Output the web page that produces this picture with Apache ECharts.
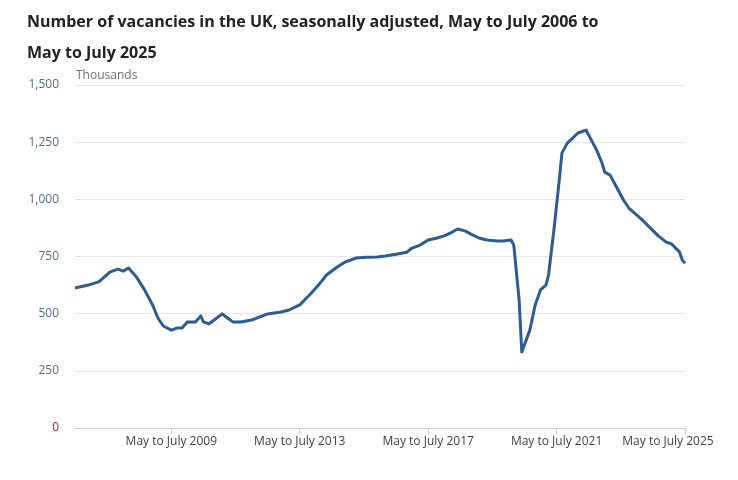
<!DOCTYPE html>
<html>
<head>
<meta charset="utf-8">
<script src="https://cdn.jsdelivr.net/npm/echarts@6/dist/echarts.min.js"></script>
<style>body{margin:0;background:#fff;}</style>
</head>
<body>
<div id="main" style="width:738px;height:480px;"></div>
<script type="text/javascript">
    // months since May to July 2006, and vacancies (thousands)
    var months = [0,5,9,13,16,18,20,23,26,29,31,33,36,38,40,42,45,47,48,50,53,55,57,59,62,64,66,68,72,77,80,84,88,91,94,98,101,105,109,113,116,120,124,126,129,132,135,138,141,143,146,148,151,154,158,160,163,164,166,167,170,172,174,176,177,179,181,182,184,186,188,191,193,195,197,198,200,203,205,207,210,212,215,218,221,223,226,227,228];
    var vacancies = [612,625,640,682,695,686,700,660,604,538,481,446,428,437,437,464,464,490,464,455,481,499,481,464,464,468,472,481,499,507,516,538,586,625,669,704,726,743,747,748,752,760,769,787,800,822,830,840,857,870,861,848,831,822,818,818,822,800,560,332,428,538,604,625,669,866,1084,1202,1246,1268,1290,1303,1259,1215,1158,1119,1106,1041,997,962,931,910,875,840,813,805,769,734,720];
    var xTicks = [36, 84, 132, 180, 228];

    var points = months.map(function (m, i) { return [m, vacancies[i]]; });

    var myChart = echarts.init(document.getElementById('main'));
    var option = {
        animation: false,
        title: {
            text: 'Number of vacancies in the UK, seasonally adjusted, May to July 2006 to\nMay to July 2025',
            left: 22,
            top: 2,
            textStyle: { fontFamily: 'Open Sans', fontSize: 16, fontWeight: 'bold', color: '#222', lineHeight: 31 }
        },
        graphic: [{
            type: 'text', left: 76, top: 70,
            style: { text: 'Thousands', fill: '#707070', font: '12px "Open Sans"' }
        }],
        grid: { left: 75, right: 53, top: 85, bottom: 52 },
        xAxis: {
            type: 'value', min: 0, max: 228,
            axisLine: { lineStyle: { color: '#ccc' } },
            axisTick: { customValues: xTicks, lineStyle: { color: '#ccc' }, length: 6 },
            axisLabel: {
                customValues: xTicks, color: '#414042', fontFamily: 'Open Sans', fontSize: 12,
                formatter: function (v) {
                    var s = 'May to July ' + (2006 + v / 12);
                    return v == 228 ? '{last|' + s + '}' : s;
                },
                rich: { last: { padding: [0, 34, 0, 0], color: '#414042', fontFamily: 'Open Sans', fontSize: 12 } }
            },
            splitLine: { show: false }
        },
        yAxis: {
            type: 'value', min: 0, max: 1500, interval: 250,
            axisLine: { show: false },
            axisTick: { show: false },
            axisLabel: {
                fontFamily: 'Open Sans', fontSize: 12, margin: 16,
                color: function (v) { return v == 0 ? '#a23' : '#5a6a80'; },
                formatter: function (v) { return v.toLocaleString('en-GB'); }
            },
            splitLine: { lineStyle: { color: '#e6e6e6' } }
        },
        series: [{
            name: 'Vacancies',
            type: 'line',
            data: points,
            showSymbol: false,
            lineStyle: { color: '#2e5c8e', width: 3, join: 'round' }
        }]
    };
    myChart.setOption(option);
</script>
</body>
</html>
